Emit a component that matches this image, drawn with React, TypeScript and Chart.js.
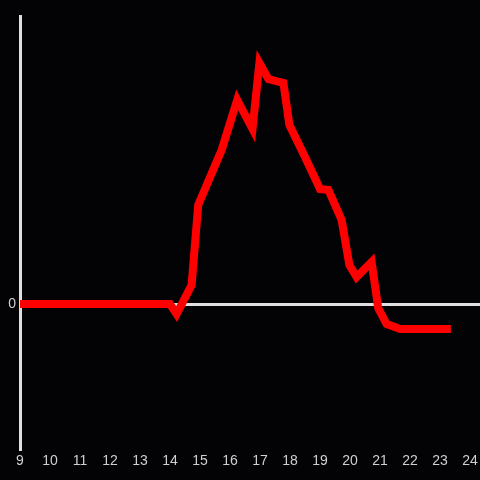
import React, { useEffect, useRef } from "react";
import { Chart, registerables } from "chart.js";

Chart.register(...registerables);

const hours: number[] = [9, 14.0, 14.22, 14.72, 14.94, 15.72, 16.24, 16.75, 16.98, 17.28, 17.78, 17.98, 18.5, 19.0, 19.28, 19.72, 19.98, 20.22, 20.72, 20.94, 21.22, 21.67, 23.36];
const values: number[] = [0, 0, -10, 19, 99, 154, 204, 175, 241, 225, 221, 179, 147, 115, 114, 84, 39, 27, 42, -4, -20, -25, -25];
const xTicks: number[] = [9, 10, 11, 12, 13, 14, 15, 16, 17, 18, 19, 20, 21, 22, 23, 24];

export default function App() {
  const ref = useRef<HTMLCanvasElement | null>(null);
  useEffect(() => {
    document.body.style.margin = "0";
    document.body.style.background = "#030204";
    const canvas = ref.current!;
    const chart = new Chart(canvas, {
      type: "line",
      data: {
        datasets: [
          {
            data: hours.map((h, i) => ({ x: h, y: values[i] })),
            borderColor: "#ff0000",
            borderWidth: 8,
            borderJoinStyle: "miter",
            borderCapStyle: "butt",
            pointRadius: 0,
            tension: 0,
            fill: false,
          },
        ],
      },
      options: {
        animation: false,
        responsive: false,
        maintainAspectRatio: false,
        layout: { padding: { top: 16, right: 0, left: 0, bottom: 0 } },
        plugins: { legend: { display: false }, tooltip: { enabled: false } },
        scales: {
          x: {
            type: "linear",
            min: 9,
            max: 24.333,
            afterBuildTicks: (s: any) => {
              s.ticks = xTicks.map((v) => ({ value: v }));
            },
            afterFit: (s: any) => {
              s.height = 31;
              s.paddingLeft = 0;
              s.paddingRight = 0;
            },
            grid: { display: false, drawTicks: false },
            border: { display: false },
            ticks: {
              color: "#d0d0d0",
              font: { size: 14, family: "Liberation Sans, Arial, sans-serif" },
              padding: 4,
              maxRotation: 0,
              autoSkip: false,
            },
          },
          y: {
            type: "linear",
            min: -145,
            max: 288,
            afterBuildTicks: (s: any) => {
              s.ticks = [{ value: 0 }];
            },
            afterFit: (s: any) => {
              s.width = 20;
              s.paddingTop = 0;
              s.paddingBottom = 0;
            },
            grid: {
              drawTicks: false,
              color: (c: any) => (c.tick && c.tick.value === 0 ? "#e0e0e0" : "transparent"),
              lineWidth: 3,
            },
            border: { display: true, color: "#e0e0e0", width: 3 },
            ticks: {
              color: "#d0d0d0",
              font: { size: 14, family: "Liberation Sans, Arial, sans-serif" },
              padding: 4,
              callback: (v: any) => (v === 0 ? "0" : ""),
            },
          },
        },
      },
    });
    return () => chart.destroy();
  }, []);
  return <canvas ref={ref} width={480} height={480} style={{ display: "block", width: 480, height: 480 }} />;
}
